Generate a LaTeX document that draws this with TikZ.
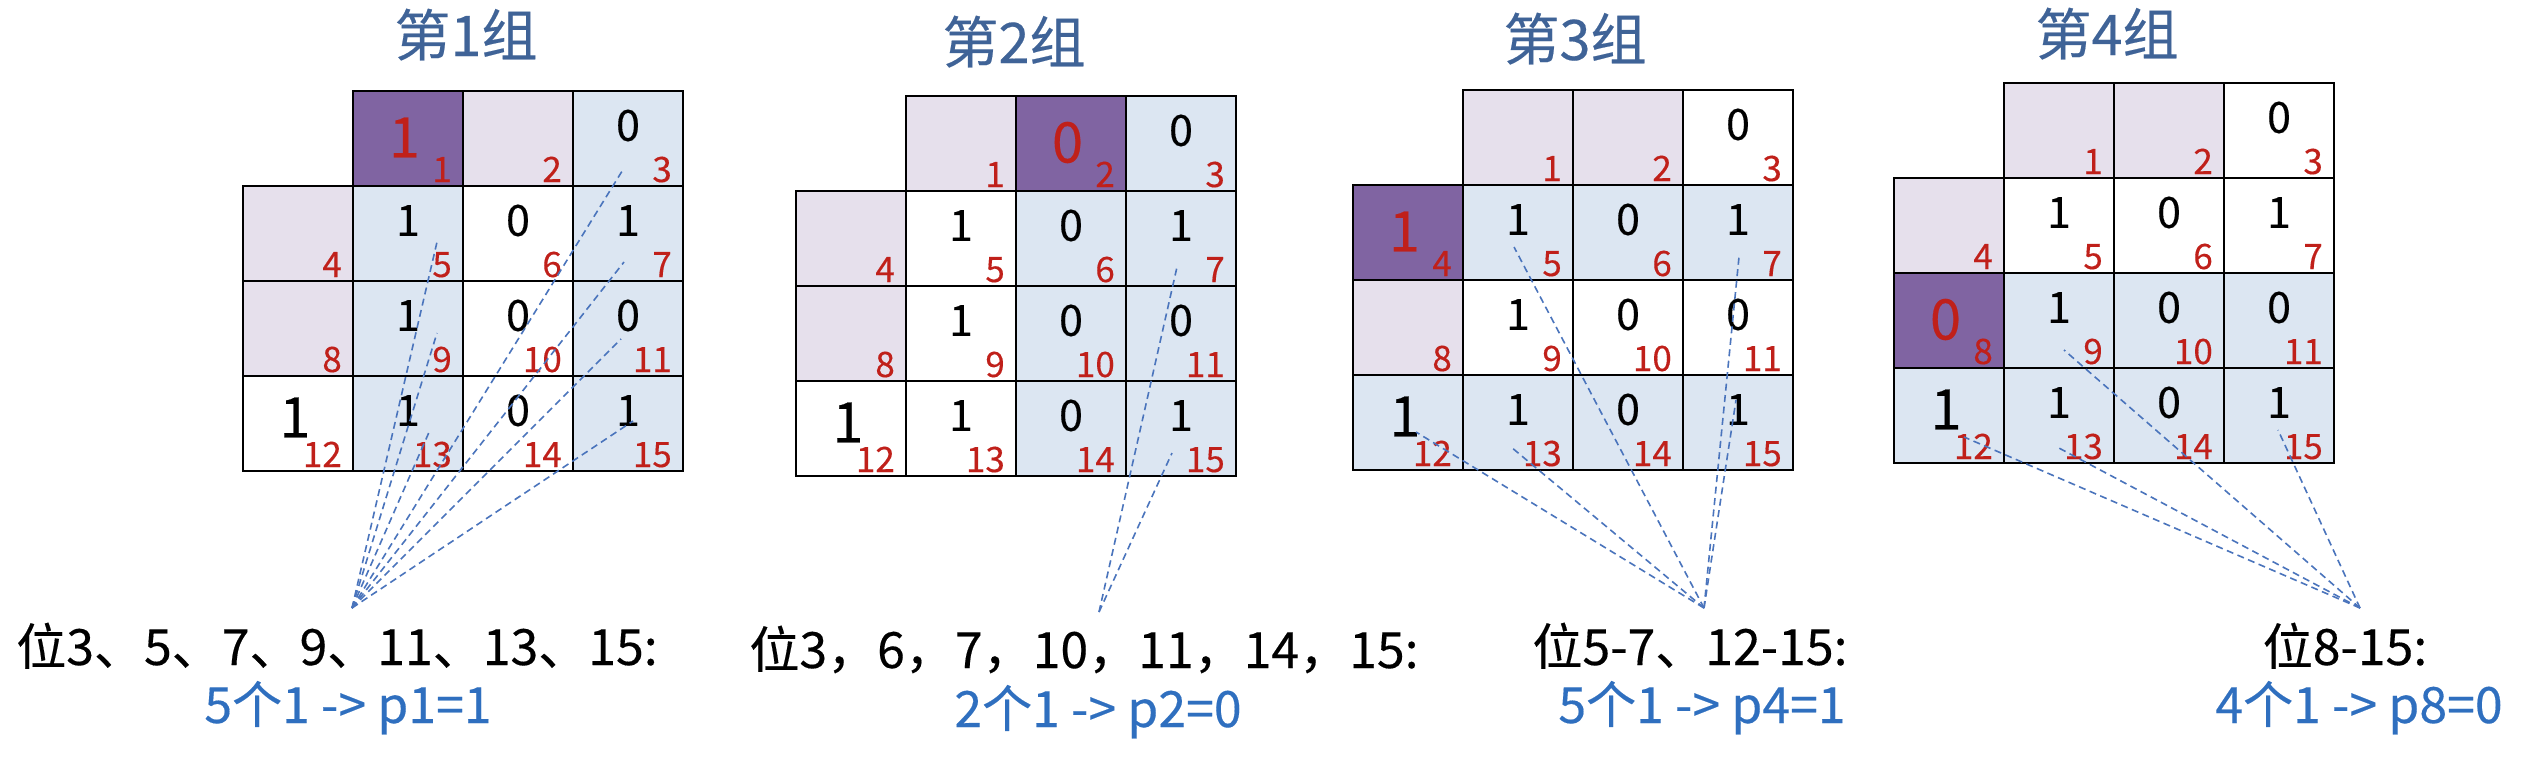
\documentclass[tikz,border=0pt]{standalone}
\usepackage{fontspec}
\setmainfont{Noto Sans CJK SC}[FakeBold=0.3]
\usetikzlibrary{calc}
\definecolor{dkp}{HTML}{8064A2}
\definecolor{ltp}{HTML}{E6E0EC}
\definecolor{ltb}{HTML}{DCE6F2}
\definecolor{idxred}{HTML}{C0201A}
\definecolor{ttlblue}{HTML}{3F6397}
\definecolor{lblblue}{HTML}{2F6FBF}
\definecolor{lnblue}{HTML}{4A74BC}
\tikzset{
 cellbox/.style={draw=black, line width=2.6pt, minimum width=110pt, minimum height=95pt, inner sep=0pt, outer sep=0pt},
 fw/.style={cellbox, fill=white},
 fp/.style={cellbox, fill=ltp},
 fb/.style={cellbox, fill=ltb},
 fd/.style={cellbox, fill=dkp},
 kn/.style={font=\fontsize{43}{43}\selectfont, yshift=13pt},
 kR/.style={font=\fontsize{56}{56}\selectfont, text=idxred, xshift=-3.5pt, yshift=1pt},
 kB/.style={font=\fontsize{56}{56}\selectfont, xshift=-3pt, yshift=6pt},
 ke/.style={},
 idx/.style={font=\fontsize{35}{35}\selectfont, text=idxred, anchor=base east, inner sep=0pt},
 ttlst/.style={font=\fontsize{56}{56}\selectfont, text=ttlblue, anchor=base, inner sep=0pt},
 lblk/.style={font=\fontsize{50}{50}\selectfont, anchor=base, inner sep=0pt},
 lblu/.style={font=\fontsize{50}{50}\selectfont, text=lblblue, anchor=base, inner sep=0pt},
 dline/.style={draw=lnblue, line width=1.6pt, dash pattern=on 7pt off 4.5pt},
}
\newcommand\drawgrid[4]{%
  \foreach \c/\r/\f/\k/\v/\i in {#4}{%
    \node[\f] (#1c\i) at ({#2+110*\c+55},{#3+95*\r+47.5}) {};
    \node[k\k, inner sep=0pt] (#1v\i) at (#1c\i.center) {\v};
    \node[idx] (#1i\i) at ([xshift=-11pt,yshift=4pt]#1c\i.south east) {\i};
  }%
}
\begin{document}
\begin{tikzpicture}[x=1pt,y=-1pt]
\fill[white] (0,0) rectangle (2530,758);
\useasboundingbox (0,0) rectangle (2530,758);

% titles
\node[ttlst] (t1) at (466,56) {第1组};
\node[ttlst] (t2) at (1014,63) {第2组};
\node[ttlst] (t3) at (1575,60) {第3组};
\node[ttlst] (t4) at (2107,55) {第4组};

% grids
\drawgrid{a}{243}{91}{1/0/fd/R/1/1, 2/0/fp/e/{}/2, 3/0/fb/n/0/3,
 0/1/fp/e/{}/4, 1/1/fb/n/1/5, 2/1/fw/n/0/6, 3/1/fb/n/1/7,
 0/2/fp/e/{}/8, 1/2/fb/n/1/9, 2/2/fw/n/0/10, 3/2/fb/n/0/11,
 0/3/fw/B/1/12, 1/3/fb/n/1/13, 2/3/fw/n/0/14, 3/3/fb/n/1/15}
\drawgrid{b}{796}{96}{1/0/fp/e/{}/1, 2/0/fd/R/0/2, 3/0/fb/n/0/3,
 0/1/fp/e/{}/4, 1/1/fw/n/1/5, 2/1/fb/n/0/6, 3/1/fb/n/1/7,
 0/2/fp/e/{}/8, 1/2/fw/n/1/9, 2/2/fb/n/0/10, 3/2/fb/n/0/11,
 0/3/fw/B/1/12, 1/3/fw/n/1/13, 2/3/fb/n/0/14, 3/3/fb/n/1/15}
\drawgrid{c}{1353}{90}{1/0/fp/e/{}/1, 2/0/fp/e/{}/2, 3/0/fw/n/0/3,
 0/1/fd/R/1/4, 1/1/fb/n/1/5, 2/1/fb/n/0/6, 3/1/fb/n/1/7,
 0/2/fp/e/{}/8, 1/2/fw/n/1/9, 2/2/fw/n/0/10, 3/2/fw/n/0/11,
 0/3/fb/B/1/12, 1/3/fb/n/1/13, 2/3/fb/n/0/14, 3/3/fb/n/1/15}
\drawgrid{d}{1894}{83}{1/0/fp/e/{}/1, 2/0/fp/e/{}/2, 3/0/fw/n/0/3,
 0/1/fp/e/{}/4, 1/1/fw/n/1/5, 2/1/fw/n/0/6, 3/1/fw/n/1/7,
 0/2/fd/R/0/8, 1/2/fb/n/1/9, 2/2/fb/n/0/10, 3/2/fb/n/0/11,
 0/3/fb/B/1/12, 1/3/fb/n/1/13, 2/3/fb/n/0/14, 3/3/fb/n/1/15}

% bottom labels
\node[lblk] (l1) at (337,665) {位3、5、7、9、11、13、15:};
\node[lblu] (m1) at (348,723) {5个1 -> p1=1};
\node[lblk] (l2) at (1084,668) {位3，6，7，10，11，14，15:};
\node[lblu] (m2) at (1098,727) {2个1 -> p2=0};
\node[lblk] (l3) at (1690,665) {位5-7、12-15:};
\node[lblu] (m3) at (1702,723) {5个1 -> p4=1};
\node[lblk] (l4) at (2345,665) {位8-15:};
\node[lblu] (m4) at (2359,723) {4个1 -> p8=0};

% convergence points and endpoints
\coordinate (p1) at (352,608);
\coordinate (p2) at (1099,612);
\coordinate (p3) at (1704,608);
\coordinate (p4) at (2360,608);
\coordinate (a3) at (624,168);
\coordinate (a5) at (437,242);
\coordinate (a7) at (624,262);
\coordinate (a9) at (437,333);
\coordinate (a11) at (621,339);
\coordinate (a13) at (430,430);
\coordinate (a15) at (633,421);
\coordinate (b7) at (1177,267);
\coordinate (b15) at (1172,453);
\coordinate (c5) at (1514,247);
\coordinate (c7) at (1739,257);
\coordinate (c12) at (1416,432);
\coordinate (c13) at (1511,447);
\coordinate (c15) at (1736,400);
\coordinate (d9) at (2064,350);
\coordinate (d12) at (1964,437);
\coordinate (d13) at (2057,447);
\coordinate (d15) at (2278,430);

\foreach \e in {a3,a5,a7,a9,a11,a13,a15} \draw[dline] (p1) -- (\e);
\foreach \e in {b7,b15} \draw[dline] (p2) -- (\e);
\foreach \e in {c5,c7,c12,c13,c15} \draw[dline] (p3) -- (\e);
\foreach \e in {d9,d12,d13,d15} \draw[dline] (p4) -- (\e);
\end{tikzpicture}
\end{document}
